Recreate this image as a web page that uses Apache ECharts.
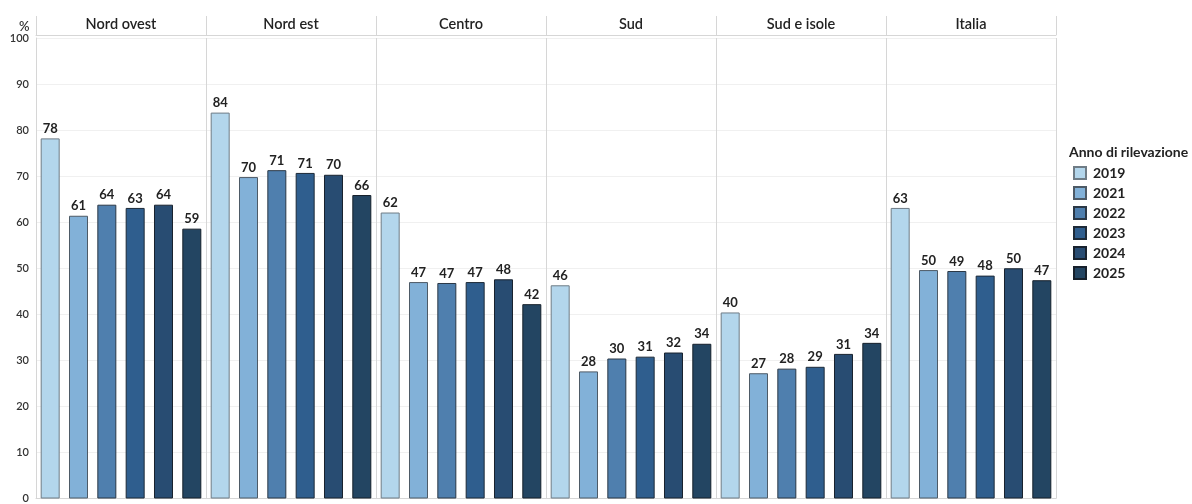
<!DOCTYPE html>
<html>
<head>
<meta charset="utf-8">
<script src="https://cdn.jsdelivr.net/npm/echarts@6/dist/echarts.min.js"></script>
<style>
  html, body { margin: 0; padding: 0; background: #fff; }
  #chart { width: 1192px; height: 504px; }
</style>
</head>
<body>
<div id="chart"></div>
<script>
// Regions shown as panels, survey years shown as bars inside each panel
const regions = ['Nord ovest', 'Nord est', 'Centro', 'Sud', 'Sud e isole', 'Italia'];
const years = ['2019', '2021', '2022', '2023', '2024', '2025'];

// Percentage per region, one array per survey year (same order as regions)
const v2019 = [78.2, 83.8, 62.1, 46.3, 40.4, 63.1];
const v2021 = [61.4, 69.8, 47.0, 27.6, 27.2, 49.6];
const v2022 = [63.8, 71.3, 46.8, 30.4, 28.2, 49.4];
const v2023 = [63.1, 70.7, 47.0, 30.8, 28.6, 48.4];
const v2024 = [63.8, 70.3, 47.6, 31.7, 31.4, 50.0];
const v2025 = [58.6, 65.9, 42.2, 33.6, 33.8, 47.4];
const seriesValues = [v2019, v2021, v2022, v2023, v2024, v2025];

const yTicks = { min: 0, max: 100, step: 10 };

const palette = ['#b3d6ec', '#82b1d8', '#4f7fae', '#2f5e8e', '#284c72', '#234562'];
const borders = ['#6f7c86', '#4d5a66', '#2b3846', '#1d2a38', '#18222e', '#16202b'];

const FONT = 'Lato, "Noto Sans", sans-serif';
const GRID_LINE = '#d6d6d6';

const chart = echarts.init(document.getElementById('chart'), null, { renderer: 'canvas' });

const series = years.map((y, i) => ({
  name: y,
  type: 'bar',
  xAxisIndex: 0,
  data: seriesValues[i],
  barGap: '49%',
  barCategoryGap: '5.5%',
  itemStyle: { color: palette[i], borderColor: borders[i], borderWidth: 1 },
  label: {
    show: true,
    position: 'top',
    distance: 3,
    formatter: p => Math.round(p.value),
    fontFamily: FONT,
    fontWeight: 'bold',
    fontSize: 13,
    color: '#222'
  },
  emphasis: { disabled: true }
}));

chart.setOption({
  animation: false,
  textStyle: { fontFamily: FONT },
  title: [
    { text: '%', left: 14, top: 15, textStyle: { fontFamily: FONT, fontSize: 13, fontWeight: 600, color: '#333' } },
    { text: 'Anno di rilevazione', left: 1064, top: 140, textStyle: { fontFamily: FONT, fontSize: 14, fontWeight: 'bold', color: '#222' } }
  ],
  legend: {
    orient: 'vertical',
    left: 1068,
    top: 161,
    icon: 'rect',
    itemWidth: 12,
    itemHeight: 12,
    itemGap: 6,
    textStyle: { fontFamily: FONT, fontSize: 14, fontWeight: 'bold', color: '#222', lineHeight: 14, padding: [0, 0, 0, 2] },
    data: years
  },
  grid: { left: 36, right: 136, top: 38, bottom: 2, containLabel: false },
  xAxis: [
    {
      type: 'category',
      data: regions,
      position: 'bottom',
      axisLine: { show: true, lineStyle: { color: GRID_LINE } },
      axisTick: { show: false },
      axisLabel: { show: false },
      splitLine: { show: true, lineStyle: { color: GRID_LINE, width: 1 } }
    },
    {
      type: 'category',
      data: regions,
      position: 'top',
      offset: 3,
      axisLine: { show: true, lineStyle: { color: GRID_LINE } },
      axisTick: { show: true, length: 19, lineStyle: { color: GRID_LINE } },
      axisLabel: { show: true, margin: 3, fontFamily: FONT, fontSize: 14.5, fontWeight: 600, color: '#222' },
      splitLine: { show: false }
    }
  ],
  yAxis: {
    type: 'value',
    min: yTicks.min,
    max: yTicks.max,
    interval: yTicks.step,
    axisLine: { show: true, lineStyle: { color: GRID_LINE } },
    axisTick: { show: false },
    axisLabel: { margin: 7, fontFamily: FONT, fontSize: 11, fontWeight: 600, color: '#333' },
    splitLine: { show: true, lineStyle: { color: '#f0f0f0' } }
  },
  series: series
});
</script>
</body>
</html>
